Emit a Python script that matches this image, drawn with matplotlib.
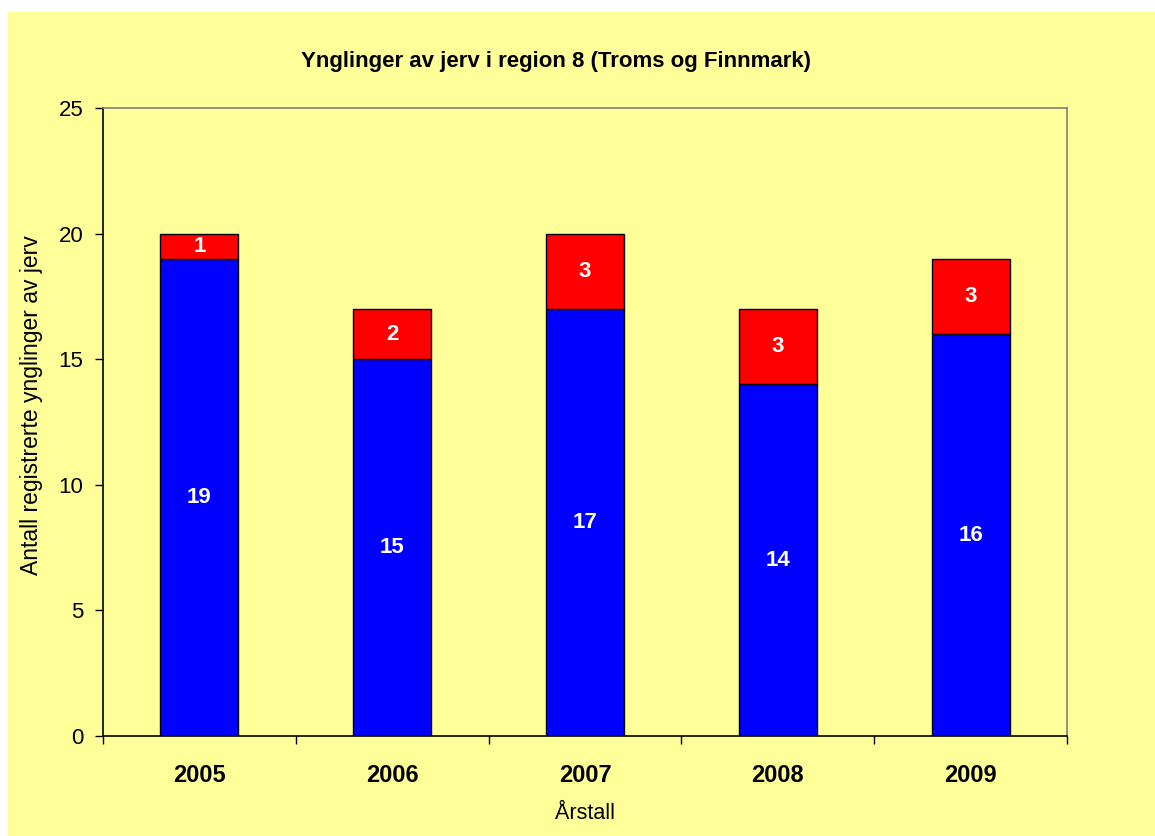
import matplotlib.pyplot as plt
import numpy as np

plt.rcParams['font.family'] = ['Liberation Sans', 'DejaVu Sans']

years = ['2005', '2006', '2007', '2008', '2009']
lower = [19, 15, 17, 14, 16]
upper = [1, 2, 3, 3, 3]

bg = '#ffff99'
fig = plt.figure(figsize=(11.55, 8.36), dpi=100)
fig.patch.set_facecolor('white')
fig.add_artist(plt.Rectangle((8 / 1155, 0), 1 - 8 / 1155, 1 - 12 / 836,
                             transform=fig.transFigure, facecolor=bg,
                             edgecolor='none', zorder=-10))

ax = fig.add_axes([103 / 1155, 1 - 736 / 836, 964 / 1155, 628 / 836])
ax.set_facecolor(bg)

x = np.arange(len(years))
w = 0.405
ax.bar(x, lower, width=w, color='#0000ff', edgecolor='black', linewidth=1)
ax.bar(x, upper, width=w, bottom=lower, color='#ff0000', edgecolor='black', linewidth=1)

for xi, lo, up in zip(x, lower, upper):
    ax.text(xi, lo / 2, str(lo), ha='center', va='center', color='white',
            fontsize=16, fontweight='bold')
    ax.text(xi, lo + up / 2, str(up), ha='center', va='center', color='white',
            fontsize=16, fontweight='bold')

ax.set_xlim(-0.5, len(years) - 0.5)
ax.set_ylim(0, 25)
ax.set_yticks([0, 5, 10, 15, 20, 25])
ax.set_xticks(x)
ax.set_xticklabels(years, fontsize=17, fontweight='bold')
ax.set_xticks(np.arange(len(years) + 1) - 0.5, minor=True)
ax.tick_params(axis='x', which='major', length=0, pad=20)
ax.tick_params(axis='x', which='minor', length=6, direction='out', width=1)
ax.tick_params(axis='y', labelsize=16, length=6, direction='out', width=1, pad=8)

for s in ['top', 'right']:
    ax.spines[s].set_color('#808080')
    ax.spines[s].set_linewidth(1.2)
for s in ['left', 'bottom']:
    ax.spines[s].set_color('black')
    ax.spines[s].set_linewidth(1.2)

ax.set_xlabel('Årstall', fontsize=15.5, labelpad=12)
ax.set_ylabel('Antall registrerte ynglinger av jerv', fontsize=16.5)
ax.yaxis.set_label_coords(-0.062, 0.527)
fig.text(556 / 1155, 1 - 62 / 836, 'Ynglinger av jerv i region 8 (Troms og Finnmark)',
         ha='center', va='center', fontsize=16, fontweight='bold')

fig.savefig('out.png', dpi=100, facecolor=fig.get_facecolor())
